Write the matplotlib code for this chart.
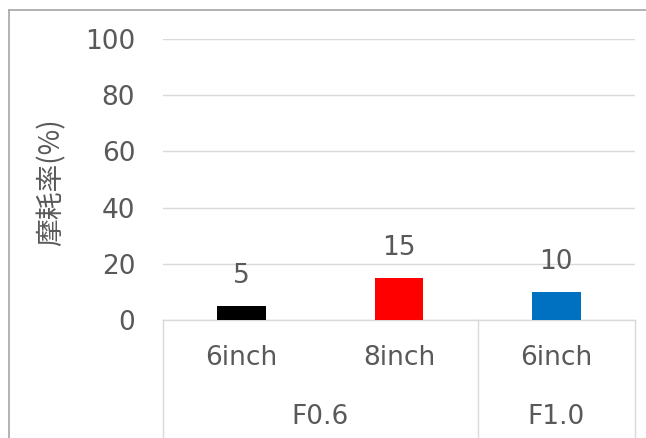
import matplotlib
matplotlib.use('Agg')
import matplotlib.pyplot as plt
from matplotlib.lines import Line2D
import matplotlib.transforms as mtransforms

sizes = ["6inch", "8inch", "6inch"]
groups = ["F0.6", "F1.0"]
group_spans = [(0, 1), (2, 2)]
wear_rate = [5, 15, 10]
bar_colors = ["#000000", "#ff0000", "#0070c0"]

text_color = "#595959"
line_color = "#d9d9d9"

plt.rcParams['font.family'] = ['DejaVu Sans', 'Noto Sans CJK JP']

fig = plt.figure(figsize=(6.46, 4.38), dpi=100)
ax = fig.add_axes([163 / 646, (438 - 320) / 438, (635 - 163) / 646, (320 - 39) / 438])

x = list(range(len(sizes)))
ax.bar(x, wear_rate, width=0.31, color=bar_colors, zorder=3)
for xi, v in zip(x, wear_rate):
    ax.annotate(str(v), (xi, v), xytext=(0, 12), textcoords='offset points',
                ha='center', va='bottom', fontsize=19, color=text_color)

ax.set_xlim(-0.5, len(sizes) - 0.5)
ax.set_ylim(0, 100)
ax.set_yticks([0, 20, 40, 60, 80, 100])
ax.tick_params(axis='y', length=0, pad=20, labelsize=19, labelcolor=text_color)
ax.set_xticks([])
ax.grid(axis='y', color=line_color, lw=1, zorder=0)
for s in ['left', 'right', 'top']:
    ax.spines[s].set_visible(False)
ax.spines['bottom'].set_color(line_color)
ax.spines['bottom'].set_linewidth(1)

trans = mtransforms.blended_transform_factory(ax.transData, ax.transAxes)
for xi, lab in zip(x, sizes):
    ax.text(xi, -0.135, lab, transform=trans, ha='center', va='center',
            fontsize=19, color=text_color)
for (a, b), g in zip(group_spans, groups):
    ax.text((a + b) / 2, -0.345, g, transform=trans, ha='center', va='center',
            fontsize=19, color=text_color)

# category box separators
for xv in [-0.5, 1.5, 2.5]:
    ax.add_line(Line2D([xv, xv], [0, -0.5], transform=trans, color=line_color,
                       lw=1, clip_on=False))

fig.text(52 / 646, 1 - 182 / 438, "摩耗率(%)", rotation=90, ha='center', va='center',
         fontsize=20, color=text_color, family=['Noto Sans CJK JP', 'DejaVu Sans'])

# outer chart border
fig.add_artist(Line2D([8.5 / 646, 1], [1 - 10 / 438] * 2, color="#a6a6a6", lw=1.2))
fig.add_artist(Line2D([8.5 / 646] * 2, [0, 1 - 10 / 438], color="#a6a6a6", lw=1.2))

fig.savefig("out.png", dpi=100)
